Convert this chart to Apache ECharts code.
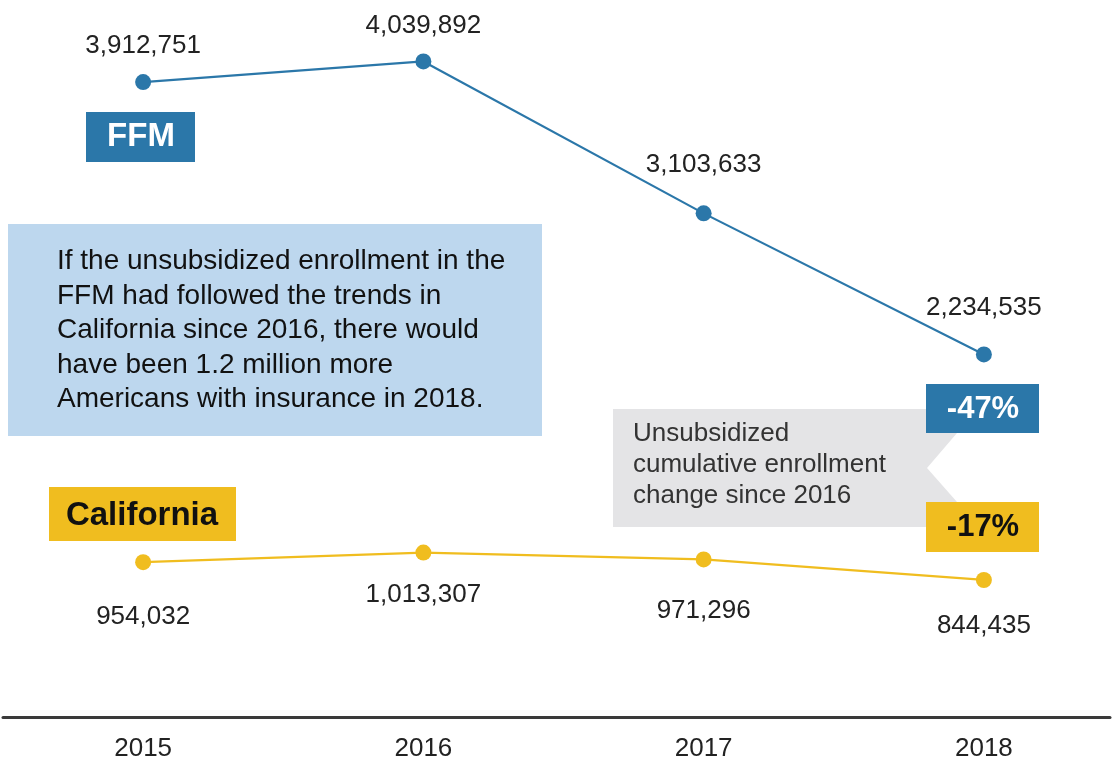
<!DOCTYPE html>
<html>
<head>
<meta charset="utf-8">
<script src="https://cdn.jsdelivr.net/npm/echarts@6/dist/echarts.min.js"></script>
<style>
html,body{margin:0;padding:0;background:#fff;}
#chart{width:1113px;height:762px;}
</style>
</head>
<body>
<div id="chart"></div>
<script>
// ---- data ----
const years = ['2015', '2016', '2017', '2018'];
const ffmValues = [3912751, 4039892, 3103633, 2234535];
const californiaValues = [954032, 1013307, 971296, 844435];
const ffmChange = '-47%';
const californiaChange = '-17%';
const noteText = 'If the unsubsidized enrollment in the\nFFM had followed the trends in\nCalifornia since 2016, there would\nhave been 1.2 million more\nAmericans with insurance in 2018.';
const calloutText = 'Unsubsidized\ncumulative enrollment\nchange since 2016';

// ---- styling ----
const BLUE = '#2b77a9';
const YELLOW = '#f0bd1f';
const FONT = 'Arial, "Liberation Sans", Helvetica, sans-serif';
const ffmLabelGap = [15, 14.5, 27.5, 25.5];
const caLabelGap = [33.5, 21.5, 30.5, 25];

const fmt = v => v.toLocaleString('en-US');

const chart = echarts.init(document.getElementById('chart'), null, {renderer: 'canvas'});

const option = {
  backgroundColor: '#ffffff',
  animation: false,
  grid: {left: 2, right: 0, top: 3, height: 720},
  xAxis: {
    type: 'value',
    min: 2014.5,
    max: 2018.45,
    interval: 0.5,
    axisLine: {show: true, lineStyle: {color: '#3a3a3a', width: 3}},
    axisTick: {show: false},
    splitLine: {show: false},
    axisLabel: {
      color: '#222', fontSize: 26, fontFamily: FONT, margin: 19,
      showMinLabel: true, showMaxLabel: true,
      formatter: v => (Math.abs(v - Math.round(v)) < 1e-6 && years.indexOf(String(Math.round(v))) >= 0) ? String(Math.round(v)) : ''
    }
  },
  yAxis: {
    type: 'value',
    min: 0,
    max: 4400000,
    show: false,
    splitLine: {show: false}
  },
  graphic: [
    // note box
    {type: 'rect', shape: {x: 8, y: 224, width: 534, height: 212}, style: {fill: '#bdd7ee'}, z: 1},
    {type: 'text', x: 57, y: 244, style: {text: noteText, font: '28px ' + FONT, fill: '#111', lineHeight: 34.6, verticalAlign: 'top', align: 'left'}, z: 2},
    // FFM label box
    {type: 'rect', shape: {x: 86, y: 112, width: 109, height: 50}, style: {fill: BLUE}, z: 1},
    {type: 'text', x: 141, y: 137, style: {text: 'FFM', font: 'bold 33px ' + FONT, fill: '#fff', align: 'center', verticalAlign: 'middle'}, z: 2},
    // California label box
    {type: 'rect', shape: {x: 49, y: 487, width: 187, height: 54}, style: {fill: YELLOW}, z: 1},
    {type: 'text', x: 142, y: 516, style: {text: 'California', font: 'bold 33px ' + FONT, fill: '#111', align: 'center', verticalAlign: 'middle'}, z: 2},
    // callout
    {type: 'polygon', shape: {points: [[613, 409], [957, 409], [957, 433], [927, 468], [957, 502], [957, 527], [613, 527]]}, style: {fill: '#e4e4e6'}, z: 1},
    {type: 'text', x: 633, y: 418, style: {text: calloutText, font: '26px ' + FONT, fill: '#333', lineHeight: 31, verticalAlign: 'top', align: 'left'}, z: 2},
    {type: 'rect', shape: {x: 926, y: 384, width: 113, height: 49}, style: {fill: BLUE}, z: 3},
    {type: 'text', x: 983, y: 409, style: {text: ffmChange, font: 'bold 31px ' + FONT, fill: '#fff', align: 'center', verticalAlign: 'middle'}, z: 4},
    {type: 'rect', shape: {x: 926, y: 502, width: 113, height: 50}, style: {fill: YELLOW}, z: 3},
    {type: 'text', x: 983, y: 527, style: {text: californiaChange, font: 'bold 31px ' + FONT, fill: '#111', align: 'center', verticalAlign: 'middle'}, z: 4}
  ],
  series: [
    {
      name: 'FFM',
      type: 'line',
      data: ffmValues.map((v, i) => ({value: [Number(years[i]), v], label: {distance: ffmLabelGap[i]}})),
      symbol: 'circle',
      symbolSize: 16,
      itemStyle: {color: BLUE},
      lineStyle: {color: BLUE, width: 2.2},
      label: {show: true, position: 'top', formatter: p => fmt(p.value[1]), color: '#222', fontSize: 26, fontFamily: FONT},
      z: 5
    },
    {
      name: 'California',
      type: 'line',
      data: californiaValues.map((v, i) => ({value: [Number(years[i]), v], label: {distance: caLabelGap[i]}})),
      symbol: 'circle',
      symbolSize: 16,
      itemStyle: {color: YELLOW},
      lineStyle: {color: YELLOW, width: 2.2},
      label: {show: true, position: 'bottom', formatter: p => fmt(p.value[1]), color: '#222', fontSize: 26, fontFamily: FONT},
      z: 5
    }
  ]
};

chart.setOption(option);
</script>
</body>
</html>
